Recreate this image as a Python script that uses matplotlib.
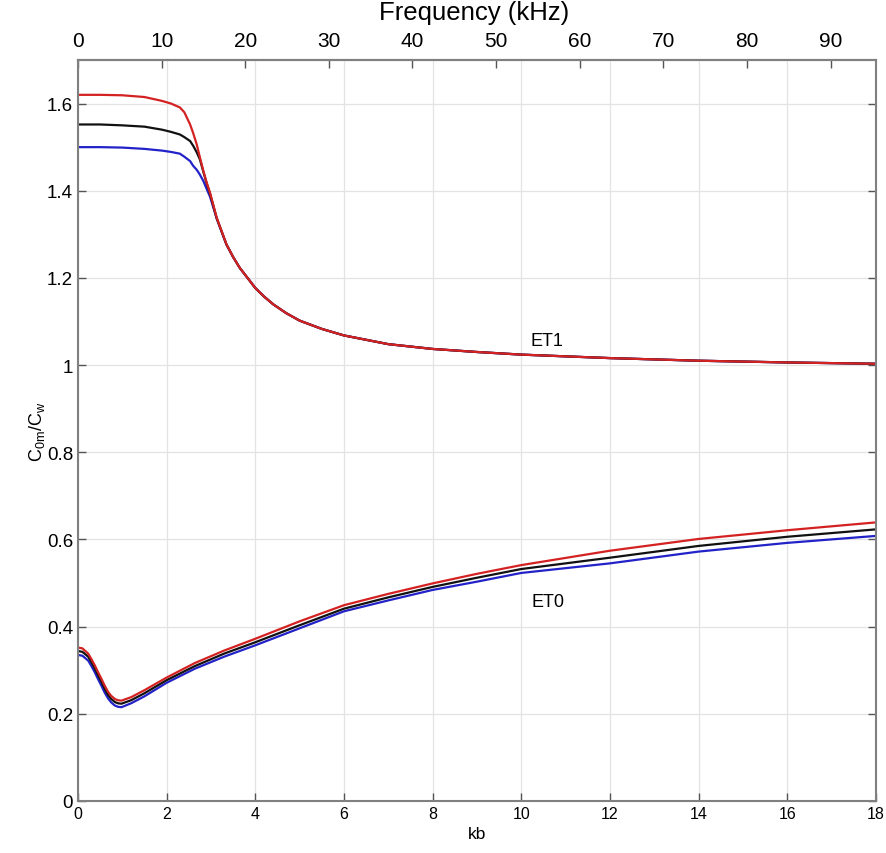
import matplotlib
matplotlib.use("Agg")
import matplotlib.pyplot as plt

plt.rcParams["font.family"] = ["Liberation Sans", "DejaVu Sans"]
plt.rcParams["mathtext.fontset"] = "custom"
plt.rcParams["mathtext.rm"] = "Liberation Sans"
plt.rcParams["mathtext.it"] = "Liberation Sans"

# ET1 branch
kb_et1 = [0, 0.5, 1.0, 1.5, 1.9, 2.1, 2.3, 2.4, 2.53, 2.6, 2.68, 2.75, 2.83, 2.9,
          2.98, 3.13, 3.35, 3.5, 3.65, 4.0, 4.2, 4.41, 4.7, 5.0, 5.5, 6, 7, 8, 9,
          10, 12, 14, 16, 18]
et1_red = [1.620, 1.620, 1.619, 1.615, 1.606, 1.600, 1.591, 1.580, 1.552, 1.532,
           1.506, 1.477, 1.445, 1.420, 1.395, 1.338, 1.277, 1.248, 1.223, 1.177,
           1.157, 1.139, 1.119, 1.102, 1.083, 1.068, 1.048, 1.037, 1.030, 1.024,
           1.016, 1.010, 1.006, 1.003]
et1_black = [1.552, 1.552, 1.550, 1.547, 1.540, 1.535, 1.529, 1.523, 1.514, 1.503,
             1.488, 1.472, 1.443, 1.418, 1.393, 1.337, 1.277, 1.248, 1.223, 1.177,
             1.157, 1.139, 1.119, 1.102, 1.083, 1.068, 1.048, 1.037, 1.030, 1.024,
             1.016, 1.010, 1.006, 1.003]
et1_blue = [1.500, 1.500, 1.499, 1.496, 1.492, 1.489, 1.485, 1.478, 1.468, 1.457,
            1.448, 1.437, 1.422, 1.405, 1.386, 1.336, 1.276, 1.248, 1.223, 1.177,
            1.157, 1.139, 1.119, 1.102, 1.083, 1.068, 1.048, 1.037, 1.030, 1.024,
            1.016, 1.010, 1.006, 1.003]

# ET0 branch
kb_et0 = [0, 0.1, 0.23, 0.3, 0.38, 0.45, 0.53, 0.6, 0.68, 0.75, 0.83, 0.9, 0.98,
          1.2, 1.5, 2, 2.63, 3.3, 4, 5, 6, 7, 8, 9, 10, 12, 14, 16, 18]
et0_red = [0.352, 0.350, 0.338, 0.326, 0.311, 0.296, 0.280, 0.265, 0.250, 0.241,
           0.234, 0.231, 0.230, 0.238, 0.254, 0.283, 0.316, 0.345, 0.372, 0.412,
           0.449, 0.475, 0.499, 0.521, 0.541, 0.574, 0.601, 0.621, 0.639]
et0_black = [0.344, 0.342, 0.331, 0.319, 0.304, 0.289, 0.273, 0.258, 0.243, 0.234,
             0.227, 0.224, 0.223, 0.231, 0.247, 0.277, 0.309, 0.338, 0.364, 0.403,
             0.441, 0.467, 0.491, 0.512, 0.532, 0.558, 0.585, 0.606, 0.623]
et0_blue = [0.335, 0.333, 0.322, 0.310, 0.295, 0.280, 0.264, 0.249, 0.235, 0.226,
            0.219, 0.216, 0.215, 0.224, 0.240, 0.271, 0.303, 0.331, 0.357, 0.396,
            0.435, 0.460, 0.484, 0.503, 0.523, 0.545, 0.572, 0.592, 0.608]

KHZ_PER_KB = 5.3
freq_ticks = [0, 10, 20, 30, 40, 50, 60, 70, 80, 90]
kb_ticks = [0, 2, 4, 6, 8, 10, 12, 14, 16, 18]
y_ticks = [0, 0.2, 0.4, 0.6, 0.8, 1.0, 1.2, 1.4, 1.6]
y_ticklabels = ["0", "0.2", "0.4", "0.6", "0.8", "1", "1.2", "1.4", "1.6"]

fig = plt.figure(figsize=(8.86, 8.54), dpi=100)
ax = fig.add_axes([0.088, 0.061, 0.9005, 0.8676])

red, black, blue = "#d42222", "#111111", "#2222c8"
for kb, series in ((kb_et1, (et1_blue, et1_black, et1_red)),
                   (kb_et0, (et0_blue, et0_black, et0_red))):
    for vals, col in zip(series, (blue, black, red)):
        ax.plot(kb, vals, color=col, lw=1.6)

ax.set_xlim(0, 18)
ax.set_ylim(0, 1.7)
ax.set_xticks(kb_ticks)
ax.set_yticks(y_ticks)
ax.set_yticklabels(y_ticklabels)
ax.grid(True, color="#e3e3e3", lw=0.9)
ax.tick_params(direction="in", length=6, width=1, colors="#555555",
               labelcolor="black", right=True)
ax.tick_params(axis="x", labelsize=11.5)
ax.tick_params(axis="y", labelsize=13.5)
for sp in ax.spines.values():
    sp.set_color("#808080")
    sp.set_linewidth(1.5)

ax.set_xlabel("kb", fontsize=12.5, labelpad=4)
ax.set_ylabel(r"$\mathregular{C_{0m}/C_w}$", fontsize=13, labelpad=0)

top = ax.secondary_xaxis("top", functions=(lambda k: k * KHZ_PER_KB,
                                           lambda f: f / KHZ_PER_KB))
top.set_xticks(freq_ticks)
top.tick_params(direction="in", length=6, width=1, colors="#555555",
                labelcolor="black", labelsize=15, pad=7)
top.spines["top"].set_color("#808080")
top.spines["top"].set_linewidth(1.5)

# axis title sits above the frequency tick labels
fig.text(0.535, 0.999, "Frequency (kHz)", fontsize=18.5, ha="center", va="top")

ax.text(10.58, 1.057, "ET1", fontsize=13, ha="center", va="center")
ax.text(10.6, 0.457, "ET0", fontsize=13, ha="center", va="center")

fig.savefig("out.png", dpi=100)
